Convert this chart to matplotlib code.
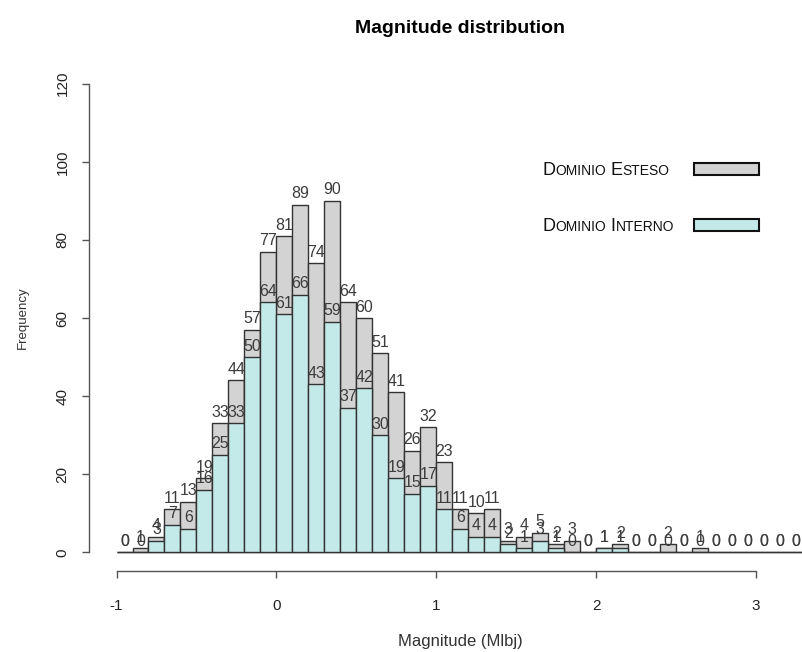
import matplotlib
matplotlib.use("Agg")
import numpy as np
from matplotlib import pyplot as plt
from matplotlib.patches import Rectangle
from matplotlib import font_manager

# histogram bins (width 0.1, from -1 to 3.3)
bin_edges = np.round(np.arange(-1.0, 3.3001, 0.1), 2)

# counts
esteso = [0, 1, 4, 11, 13, 19, 33, 44, 57, 77, 81, 89, 74, 90, 64, 60, 51, 41, 26, 32,
          23, 11, 10, 11, 3, 4, 5, 2, 3, 0, 1, 2, 0, 0, 2, 0, 1, 0, 0, 0, 0, 0, 0]
interno = [0, 0, 3, 7, 6, 16, 25, 33, 50, 64, 61, 66, 43, 59, 37, 42, 30, 19, 15, 17,
           11, 6, 4, 4, 2, 1, 3, 1, 0, 0, 1, 1, 0, 0, 0, 0, 0, 0, 0, 0, 0, 0, 0]

legend_labels = ["Dominio Esteso", "Dominio Interno"]
col_esteso = "#d3d3d3"
col_interno = "#c4e9e9"

plt.rcParams['font.family'] = ['Liberation Sans', 'DejaVu Sans']
plt.rcParams['axes.unicode_minus'] = False

names = {f.name for f in font_manager.fontManager.ttflist}
narrow = 'Liberation Sans Narrow' if 'Liberation Sans Narrow' in names else 'Liberation Sans'

fig = plt.figure(figsize=(8.02, 6.52), dpi=100)
ax = fig.add_axes([0.1110, 0.1242, 0.9258, 0.7761])

left = bin_edges[:-1]
width = np.diff(bin_edges)
centers = left + width / 2


def draw_hist(counts, color):
    ax.bar(left, counts, width=width, align='edge', color=color,
           edgecolor='#333333', linewidth=1.0)
    for xc, c in zip(centers, counts):
        ax.annotate(str(c), (xc, c), xytext=(0, 2.5), textcoords='offset points',
                    ha='center', va='bottom', fontsize=11.5, color='#3c3c3c')


draw_hist(esteso, col_esteso)
draw_hist(interno, col_interno)

ax.set_xlim(-1.172, 3.472)
ax.set_ylim(-4.8, 124.8)
ax.spines['top'].set_visible(False)
ax.spines['right'].set_visible(False)
ax.spines['left'].set_bounds(0, 120)
ax.spines['bottom'].set_bounds(-1, 3)
for s in ('left', 'bottom'):
    ax.spines[s].set_color('#555555')
    ax.spines[s].set_linewidth(1.0)

ax.set_xticks([-1, 0, 1, 2, 3])
ax.set_yticks(np.arange(0, 121, 20))
ax.tick_params(axis='both', length=5, width=1.0, color='#555555', labelsize=11,
               labelcolor='#222222')
ax.tick_params(axis='x', pad=15)
ax.tick_params(axis='y', pad=9)
for lab in ax.get_yticklabels():
    lab.set_rotation(90)
    lab.set_va('center')

ax.set_xlabel('Magnitude (Mlbj)', fontsize=12, color='#333333', labelpad=15.5)
ax.set_ylabel('Frequency', fontsize=9.5, color='#333333', labelpad=19)
ax.set_title('Magnitude distribution', fontsize=14, fontweight='bold', pad=23)

# legend drawn R-style: small-caps labels with a box to the right
renderer = fig.canvas.get_renderer()


def smallcaps(x_px, y_px, text):
    x = x_px
    for word_i, word in enumerate(text.split()):
        pieces = [(word[0].upper(), 13), (word[1:].upper(), 10)]
        if word_i > 0:
            pieces[0] = (' ' + pieces[0][0], 13)
        for s, size in pieces:
            t = fig.text(x / 802, 1 - y_px / 652, s, fontsize=size, family=narrow,
                         va='baseline', ha='left', color='#111111')
            x += t.get_window_extent(renderer).width


legend_y = [175, 231]
for lab, col, y in zip(legend_labels, [col_esteso, col_interno], legend_y):
    smallcaps(542, y, lab)
    fig.patches.append(Rectangle((694 / 802, 1 - y / 652), 65 / 802, 12 / 652,
                                 transform=fig.transFigure, facecolor=col,
                                 edgecolor='#111111', linewidth=1.5))

fig.savefig('out.png', dpi=100)
